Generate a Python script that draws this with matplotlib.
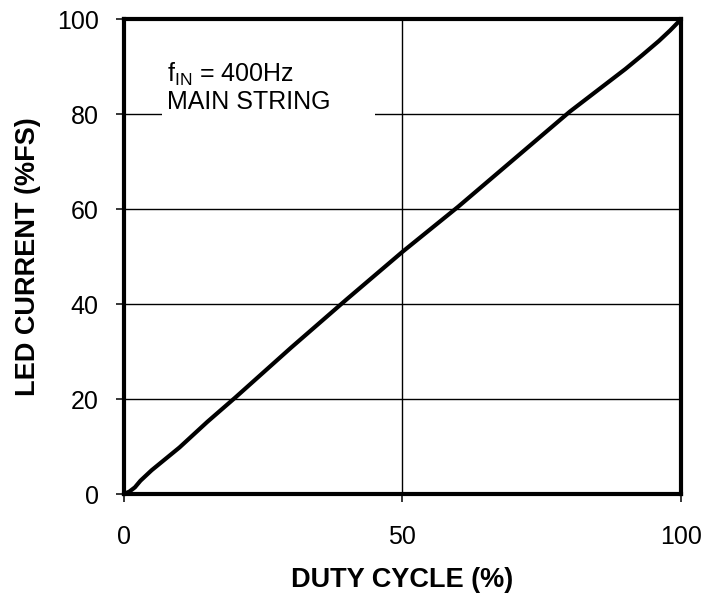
import matplotlib
matplotlib.use("Agg")
import matplotlib.pyplot as plt
from matplotlib.patches import Rectangle

plt.rcParams['font.family'] = ['Liberation Sans', 'DejaVu Sans']

# duty cycle (%) vs LED current (%FS)
duty = [0, 1, 2, 3, 5, 10, 15, 20, 30, 40, 50, 60, 70, 80, 90, 93, 96, 98, 100]
current = [0, 0.5, 1.4, 2.8, 5, 9.8, 15.2, 20.3, 30.8, 41, 51, 60.5, 70.5, 80.5, 89.5, 92.4, 95.4, 97.6, 100]

x_ticks = [0, 50, 100]
y_ticks = [0, 20, 40, 60, 80, 100]

fig = plt.figure(figsize=(7.03, 5.97), dpi=100)
ax = fig.add_axes([0.176, 0.1725, 0.793, 0.7955])

ax.plot(duty, current, color='black', lw=3, zorder=3, solid_capstyle='round')

ax.set_xlim(0, 100)
ax.set_ylim(0, 100)
ax.set_xticks(x_ticks)
ax.set_yticks(y_ticks)
ax.grid(True, color='black', lw=1.0)
ax.set_axisbelow(True)
for s in ax.spines.values():
    s.set_linewidth(3)
ax.tick_params(direction='out', length=6, width=1.1, labelsize=18)
ax.tick_params(axis='x', pad=16)
ax.tick_params(axis='y', pad=12)

ax.set_xlabel('DUTY CYCLE (%)', fontsize=19.5, fontweight='bold', va='center')
ax.set_ylabel('LED CURRENT (%FS)', fontsize=19.5, fontweight='bold', va='center')
ax.xaxis.set_label_coords(0.5, -0.181)
ax.yaxis.set_label_coords(-0.172, 0.5)

# white gap in the 80% gridline behind the note
ax.add_patch(Rectangle((6.8, 77), 38.3, 6, facecolor='white', edgecolor='none', zorder=1))
ax.text(7.7, 86.9, 'f$_{\\mathregular{IN}}$ = 400Hz', fontsize=18, ha='left', va='baseline', zorder=4)
ax.text(7.7, 81.1, 'MAIN STRING', fontsize=18, ha='left', va='baseline', zorder=4)

fig.savefig('out.png', dpi=100)
